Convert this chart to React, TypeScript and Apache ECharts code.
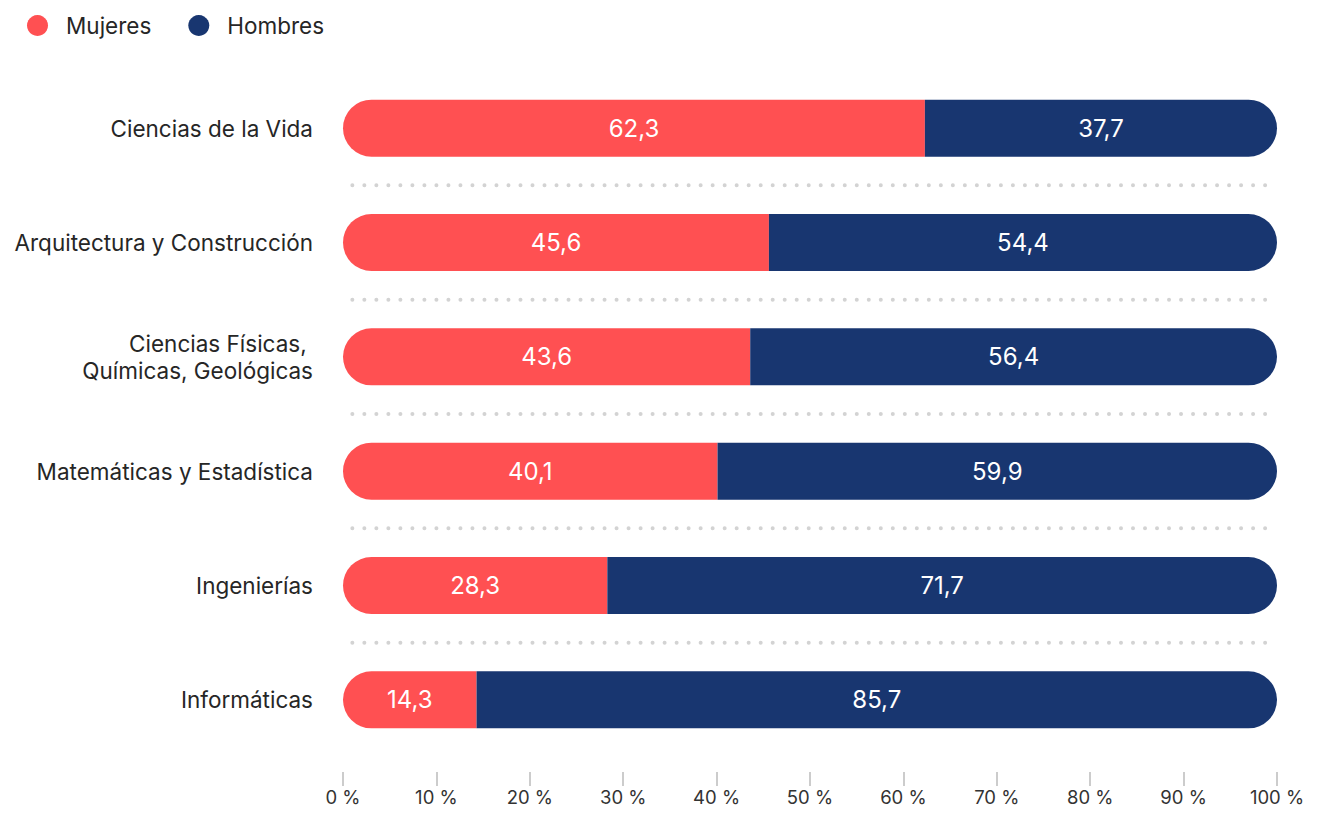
import React, { useEffect, useRef } from "react";
import * as echarts from "echarts";

const categories = [
  "Ciencias de la Vida",
  "Arquitectura y Construcción",
  "Ciencias Físicas, \nQuímicas, Geológicas",
  "Matemáticas y Estadística",
  "Ingenierías",
  "Informáticas",
];
const mujeres = [62.3, 45.6, 43.6, 40.1, 28.3, 14.3];
const hombres = [37.7, 54.4, 56.4, 59.9, 71.7, 85.7];
const separators = [0, 1, 2, 3, 4];

const RED = "#FF5052";
const NAVY = "#183670";
const FONT = "Inter, 'Noto Sans', sans-serif";

const fmt = (v: number) => v.toFixed(1).replace(".", ",");

export default function App() {
  const ref = useRef<HTMLDivElement>(null);
  useEffect(() => {
    if (!ref.current) return;
    const chart = echarts.init(ref.current, undefined, { renderer: "svg" });
    chart.setOption({
      animation: false,
      textStyle: { fontFamily: FONT },
      legend: {
        data: ["Mujeres", "Hombres"],
        left: 22,
        top: 9,
        icon: "circle",
        itemWidth: 21,
        itemHeight: 21,
        itemGap: 37,
        textStyle: {
          fontSize: 22.5,
          color: "#262626",
          fontFamily: FONT,
          padding: [0, 0, 0, 13],
        },
      },
      grid: { left: 343, right: 42, top: 71, bottom: 57, containLabel: false },
      xAxis: {
        type: "value",
        min: 0,
        max: 100,
        interval: 10,
        offset: 15,
        axisLine: { show: false },
        axisTick: { show: true, length: 14, lineStyle: { color: "#cccccc", width: 2 } },
        splitLine: { show: false },
        axisLabel: {
          formatter: (v: number) => `${v} %`,
          fontSize: 18.5,
          color: "#333",
          margin: 15,
          fontFamily: FONT,
        },
      },
      yAxis: {
        type: "category",
        data: categories,
        inverse: true,
        axisLine: { show: false },
        axisTick: { show: false },
        splitLine: { show: false },
        axisLabel: {
          fontSize: 22.5,
          color: "#262626",
          margin: 30,
          lineHeight: 27,
          align: "right",
          fontFamily: FONT,
          padding: [0, 0, 2, 0],
        },
      },
      series: [
        {
          type: "custom",
          silent: true,
          z: 1,
          data: separators.map((i) => [0, i]),
          encode: { x: 0, y: 1 },
          renderItem: (params: any, api: any) => {
            const i = separators[params.dataIndex];
            const ya = api.coord([0, i])[1];
            const yb = api.coord([0, i + 1])[1];
            const y = (ya + yb) / 2;
            const x1 = api.coord([1, i])[0];
            const x2 = api.coord([99, i])[0];
            return {
              type: "line",
              shape: { x1, y1: y, x2, y2: y },
              style: {
                stroke: "#d3d3d3",
                lineWidth: 4,
                lineDash: [0.01, 12],
                lineCap: "round",
              },
            };
          },
        },
        {
          name: "Mujeres",
          type: "bar",
          stack: "total",
          barWidth: 57,
          data: mujeres,
          itemStyle: { color: RED, borderRadius: [28.5, 0, 0, 28.5] },
          label: {
            show: true,
            position: "inside",
            color: "#fff",
            fontSize: 24,
            fontFamily: FONT,
            formatter: (p: any) => fmt(p.value),
          },
        },
        {
          name: "Hombres",
          type: "bar",
          stack: "total",
          barWidth: 57,
          data: hombres,
          itemStyle: { color: NAVY, borderRadius: [0, 28.5, 28.5, 0] },
          label: {
            show: true,
            position: "inside",
            color: "#fff",
            fontSize: 24,
            fontFamily: FONT,
            formatter: (p: any) => fmt(p.value),
          },
        },
      ],
    });
    return () => chart.dispose();
  }, []);
  return <div ref={ref} style={{ width: 1319, height: 814, margin: -8 }} />;
}
